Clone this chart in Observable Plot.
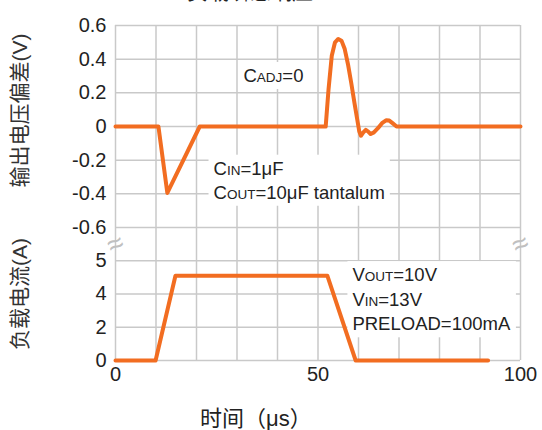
<!DOCTYPE html>
<html><head><meta charset="utf-8">
<script src="https://cdn.jsdelivr.net/npm/d3@7"></script>
<script src="https://cdn.jsdelivr.net/npm/@observablehq/plot@0.6"></script>
<style>
body{margin:0;background:#fff;}
#wrap{position:relative;width:542px;height:430px;overflow:hidden;font-family:"Liberation Sans",Arial,"Noto Sans CJK SC",sans-serif;color:#222;}
#title{position:absolute;top:-19px;left:0;width:500px;text-align:center;font-size:21px;line-height:1;}
#top{position:absolute;left:0;top:0;}
#bottom{position:absolute;left:0;top:227px;}
#xlabel{position:absolute;left:200px;top:408px;font-size:22px;line-height:1;white-space:nowrap;}
</style></head>
<body><div id="wrap"><div id="title"></div><div id="top"></div><div id="bottom"></div><div id="xlabel"></div></div>
<script>
const title = "负载瞬态响应";
const yLabelTop = "输出电压偏差(V)";
const yLabelBottom = "负载电流(A)";
const xLabel = "时间（μs）";

// output voltage deviation (V) vs time (μs)
const voltTime  = [0, 10.6, 12.8, 20.8, 51.9, 52.6, 53.4, 54.2, 55.0, 55.8, 56.6, 57.4, 58.2, 59.0, 59.7, 60.2, 60.6, 61.2, 61.8, 62.4, 63.0, 63.8, 64.8, 65.8, 66.8, 67.6, 68.4, 69.4, 100];
const voltValue = [0, 0, -0.395, 0, 0, 0.22, 0.42, 0.5, 0.52, 0.51, 0.46, 0.37, 0.26, 0.14, 0.04, -0.03, -0.055, -0.035, -0.02, -0.03, -0.045, -0.035, -0.01, 0.02, 0.037, 0.035, 0.02, 0, 0];

// load current (A) vs time (μs)
const currTime  = [0, 9.9, 14.8, 52.3, 59.3, 92];
const currValue = [0, 0, 4.55, 4.55, 0, 0];

const xTicks = [0, 50, 100];
const xGrid = [0, 10, 20, 30, 40, 50, 60, 70, 80, 90, 100];
const voltTicks = [-0.6, -0.4, -0.2, 0, 0.2, 0.4, 0.6];
const currTicks = [0, 2, 4, 5];
const currDomain = [0, 2, 4, 5, 6];   // tick labels are evenly spaced in the original; last step is the axis break

const topNoteText = ["C[ADJ]=0", "C[IN]=1μF\nC[OUT]=10μF tantalum"];
const topNoteX = [31.6, 24.2];
const topNoteY = [0.31, -0.312];
const bottomNoteText = ["V[OUT]=10V\nV[IN]=13V\nPRELOAD=100mA"];
const bottomNoteX = [58.5];
const bottomNoteY = [3.77];
const breakText = ["≈", "≈"];
const breakX = [0, 100];
const breakY = [5.5, 5.5];

const ORANGE = "#F26D21";
const GRID = "#c9c9c9";
const FONT = '"Liberation Sans", Arial, "Noto Sans CJK SC", sans-serif';
const fmt = d => d === 0 ? "0" : String(d);

const volt = voltTime.map((t, i) => ({t, v: voltValue[i]}));
const curr = currTime.map((t, i) => ({t, v: currValue[i]}));
const topNotes = topNoteText.map((s, i) => ({s, x: topNoteX[i], y: topNoteY[i]}));
const bottomNotes = bottomNoteText.map((s, i) => ({s, x: bottomNoteX[i], y: bottomNoteY[i]}));
const breaks = breakText.map((s, i) => ({s, x: breakX[i], y: breakY[i]}));

const style = {fontFamily: FONT, fontSize: "20px", color: "#222", background: "transparent", overflow: "visible"};

const topPlot = Plot.plot({
  width: 542, height: 228, marginTop: 25, marginBottom: 1, marginLeft: 115, marginRight: 22,
  style,
  x: {domain: [0, 100], axis: null},
  y: {domain: [-0.6, 0.6], axis: null},
  marks: [
    Plot.ruleX(xGrid, {stroke: GRID, strokeWidth: 1.5}),
    Plot.ruleY(voltTicks, {stroke: GRID, strokeWidth: 1.5}),
    Plot.axisY(voltTicks, {tickSize: 0, tickPadding: 9, tickFormat: fmt, label: null, fontSize: 20}),
    Plot.text(topNotes, {x: "x", y: "y", text: "s", textAnchor: "start", lineAnchor: "middle", lineHeight: 1.3, fontSize: 18.5, fill: "#222"}),
    Plot.line(volt, {x: "t", y: "v", stroke: ORANGE, strokeWidth: 4}),
    Plot.text([yLabelTop], {text: d => d, frameAnchor: "left", textAnchor: "middle", rotate: -90, dx: -95, dy: -16, fontSize: 21, fill: "#333"})
  ]
});

// evenly spaced (piecewise) current axis, as printed in the original
const currStep = d3.scaleLinear().domain(currDomain).range(currDomain.map((d, i) => i));
const bottomPlot = Plot.plot({
  width: 542, height: 203, marginTop: 0, marginBottom: 70, marginLeft: 115, marginRight: 22,
  style,
  x: {domain: [0, 100], axis: null},
  y: {domain: [0, currDomain.length - 1], transform: currStep, axis: null},
  marks: [
    Plot.ruleX(xGrid, {stroke: GRID, strokeWidth: 1.5}),
    Plot.ruleY(currTicks, {stroke: GRID, strokeWidth: 1.5}),
    Plot.axisY(currTicks, {tickSize: 0, tickPadding: 9, tickFormat: fmt, label: null, fontSize: 20}),
    Plot.axisX(xTicks, {tickSize: 0, tickPadding: 6, tickFormat: fmt, label: null, fontSize: 20}),
    Plot.text(bottomNotes, {x: "x", y: "y", text: "s", textAnchor: "start", lineAnchor: "middle", lineHeight: 1.33, fontSize: 18.5, fill: "#222"}),
    Plot.line(curr, {x: "t", y: "v", stroke: ORANGE, strokeWidth: 4}),
    Plot.text(breaks, {x: "x", y: "y", text: "s", fontSize: 28, rotate: -25, fill: "#c0c0c0"}),
    Plot.text([yLabelBottom], {text: d => d, frameAnchor: "left", textAnchor: "middle", rotate: -90, dx: -95, fontSize: 21, fill: "#333"})
  ]
});

document.getElementById("title").textContent = title;
document.getElementById("xlabel").textContent = xLabel;
document.getElementById("top").appendChild(topPlot);
document.getElementById("bottom").appendChild(bottomPlot);

const NS = "http://www.w3.org/2000/svg";
function notes(svg) {
  const texts = [...svg.querySelectorAll("text")].filter(t => t.textContent.includes("["));
  texts.forEach(text => {
    const spans = [...text.querySelectorAll("tspan")];
    const nodes = spans.length ? spans : [text];
    nodes.forEach(n => {
      const s = n.textContent;
      if (!s.includes("[")) return;
      n.textContent = "";
      s.split(/(\[[^\]]*\])/).forEach(part => {
        if (!part) return;
        const ts = document.createElementNS(NS, "tspan");
        if (part.startsWith("[")) { ts.textContent = part.slice(1, -1); ts.setAttribute("font-size", "13.5px"); }
        else ts.textContent = part;
        n.appendChild(ts);
      });
    });
  });
  texts.forEach(text => {
    const b = text.getBBox();
    const r = document.createElementNS(NS, "rect");
    r.setAttribute("x", b.x - 5);
    r.setAttribute("y", b.y - 3);
    r.setAttribute("width", b.width + 10);
    r.setAttribute("height", b.height + 6);
    r.setAttribute("fill", "white");
    r.setAttribute("stroke", "none");
    const tr = text.getAttribute("transform");
    if (tr) r.setAttribute("transform", tr);
    text.parentNode.insertBefore(r, text);
  });
}
[topPlot, bottomPlot].forEach(notes);
</script>
</body></html>
